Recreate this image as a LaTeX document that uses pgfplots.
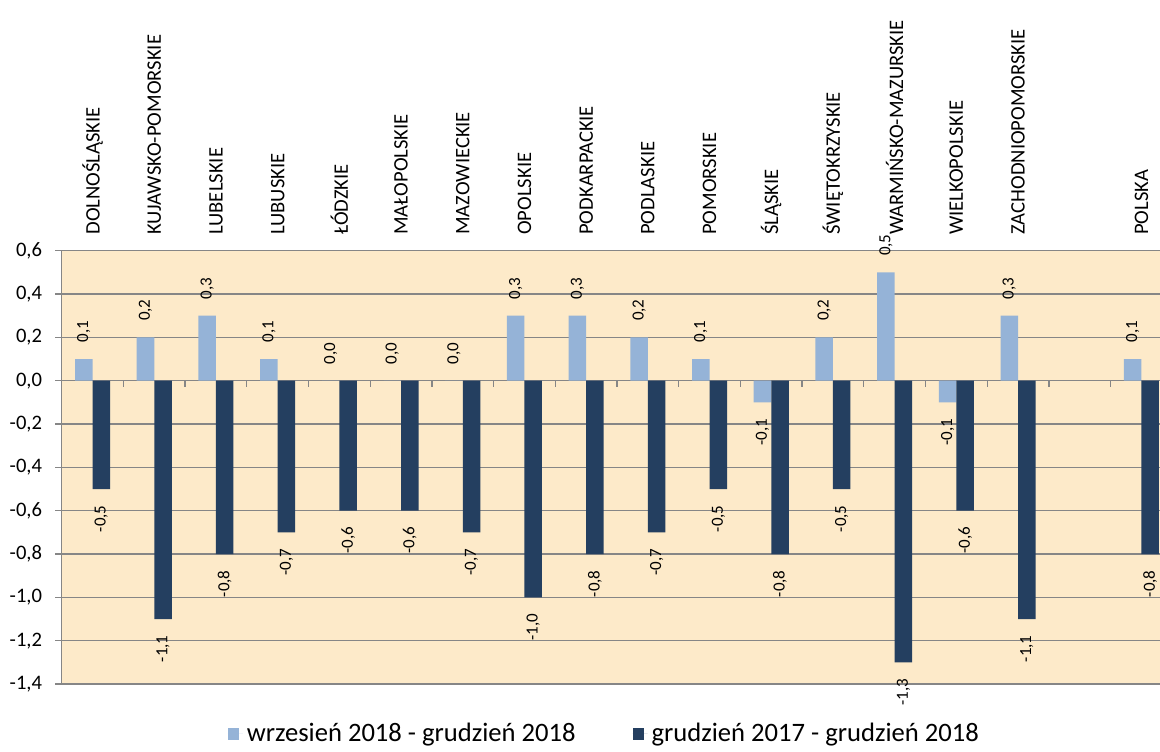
\documentclass[border=0pt]{standalone}
\usepackage{pgfplots}
\pgfplotsset{compat=1.18}
\usepackage{fontspec}
\setmainfont{Carlito}
\definecolor{bgc}{HTML}{FDEAC9}
\definecolor{lb}{HTML}{95B3D7}
\definecolor{db}{HTML}{243F60}
\definecolor{gr}{HTML}{868686}
\begin{document}
\begin{tikzpicture}
\path[use as bounding box] (-30.85pt,-33.5pt) rectangle (549.15pt,342pt);
\begin{axis}[
  at={(0,0)}, anchor=south west,
  scale only axis, width=555.3pt, height=216.67pt,
  xmin=-0.5, xmax=17.5, ymin=-1.4, ymax=0.6,
  ybar=0pt, bar width=0.284,
  axis background/.style={fill=bgc},
  axis x line*=top, axis y line*=left,
  x axis line style={draw=gr, line width=0.65pt},
  y axis line style={draw=gr, line width=0.65pt},
  ymajorgrids, grid style={draw=gr, line width=0.65pt},
  ytick={-1.4,-1.2,-1,-0.8,-0.6,-0.4,-0.2,0,0.2,0.4,0.6},
  tick align=outside, major tick length=3.3pt,
  ytick style={draw=gr, line width=0.65pt},
  xtick style={draw=none},
  y tick label style={font=\fontsize{10.3}{12}\selectfont, xshift=-3pt,
    /pgf/number format/.cd, fixed, fixed zerofill, precision=1, use comma, assume math mode=true},
  xtick={0,1,2,3,4,5,6,7,8,9,10,11,12,13,14,15,17},
  xticklabels={DOLNOŚLĄSKIE,KUJAWSKO-POMORSKIE,LUBELSKIE,LUBUSKIE,ŁÓDZKIE,MAŁOPOLSKIE,MAZOWIECKIE,OPOLSKIE,PODKARPACKIE,PODLASKIE,POMORSKIE,ŚLĄSKIE,ŚWIĘTOKRZYSKIE,WARMIŃSKO-MAZURSKIE,WIELKOPOLSKIE,ZACHODNIOPOMORSKIE,POLSKA},
  x tick label style={font=\fontsize{10.3}{12}\selectfont, rotate=90, anchor=west, inner xsep=4.5pt},
  point meta=y, point meta min=-1.4, point meta max=0.6,
  nodes near coords={\pgfmathprintnumber[fixed,fixed zerofill,precision=1,use comma,assume math mode=true]{\pgfplotspointmeta}},
  every node near coord/.append style={rotate=90, text=black, font=\fontsize{8.5}{10}\selectfont, inner xsep=8pt,
    anchor=\ifdim\pgfplotspointmetatransformed pt<699pt east\else west\fi},
  legend columns=2,
  legend style={at={(0.4895,-0.115)}, anchor=center, draw=none, fill=none,
    font=\fontsize{13.3}{15}\selectfont,
    /tikz/every even column/.append style={column sep=26.5pt}},
  legend image code/.code={\path (0pt,0pt) -- (7.5pt,0pt); \fill[#1] (0pt,-3.2pt) rectangle (5.5pt,2.8pt);},
]
\addplot[fill=lb, draw=none] coordinates {
 (0,0.1) (1,0.2) (2,0.3) (3,0.1) (4,0.0) (5,0.0) (6,0.0) (7,0.3) (8,0.3)
 (9,0.2) (10,0.1) (11,-0.1) (12,0.2) (13,0.5) (14,-0.1) (15,0.3) (17,0.1)};
\addlegendentry{wrzesień 2018 - grudzień 2018}
\addplot[fill=db, draw=none] coordinates {
 (0,-0.5) (1,-1.1) (2,-0.8) (3,-0.7) (4,-0.6) (5,-0.6) (6,-0.7) (7,-1.0) (8,-0.8)
 (9,-0.7) (10,-0.5) (11,-0.8) (12,-0.5) (13,-1.3) (14,-0.6) (15,-1.1) (17,-0.8)};
\addlegendentry{grudzień 2017 - grudzień 2018}
\pgfplotsinvokeforeach{0.5,1.5,...,16.5}{\draw[gr, line width=0.65pt] (axis cs:#1,0) -- ([yshift=-3.3pt]axis cs:#1,0);}
\end{axis}
\end{tikzpicture}
\end{document}
